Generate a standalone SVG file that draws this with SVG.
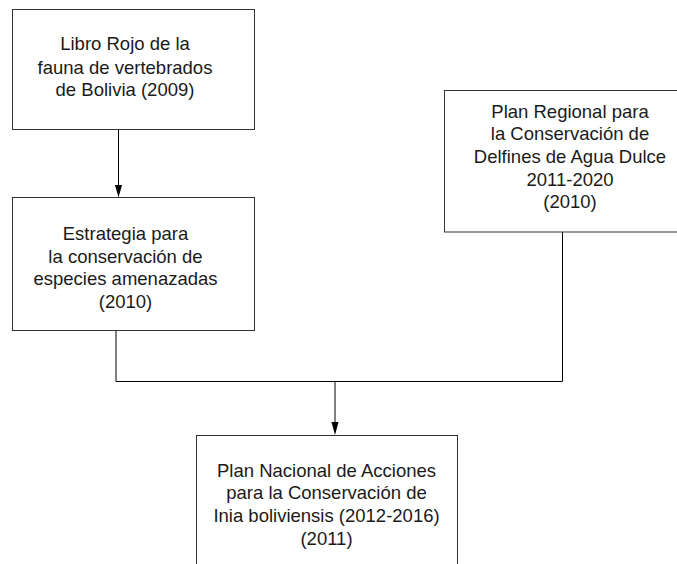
<svg xmlns="http://www.w3.org/2000/svg" width="677" height="564" viewBox="0 0 677 564">
<style>
.box{fill:#fff;stroke:#333;stroke-width:1}
.t{font-family:"Liberation Sans",Arial,sans-serif;font-size:18.5px;fill:#1a1a1a;text-anchor:middle}
.c{fill:none;stroke:#000;stroke-width:1}
</style>
<defs>
<marker id="ah" markerWidth="7" markerHeight="12" refX="3.5" refY="12" orient="auto-start-reverse" markerUnits="userSpaceOnUse" viewBox="0 0 7 12">
<path d="M0,0 L7,0 L3.5,12 Z" fill="#000"/>
</marker>
</defs>
<rect width="677" height="564" fill="#fff"/>
<g id="connectors">
<path class="c" d="M118.5,129.5 V185"/>
<path d="M115,185 L122,185 L118.5,197.5 Z" fill="#000"/>
<path class="c" d="M116,330.5 V381.5 H562.5 V232"/>
<path class="c" d="M335,381.5 V423"/>
<path d="M331.5,422 L338.5,422 L335,435 Z" fill="#000"/>
</g>
<g id="n1">
<rect class="box" x="12.5" y="9.5" width="242" height="120"/>
<text class="t" x="125" y="50">Libro Rojo de la</text>
<text class="t" x="125" y="73.5">fauna de vertebrados</text>
<text class="t" x="125" y="96">de Bolivia (2009)</text>
</g>
<g id="n2">
<rect class="box" x="12.5" y="197.5" width="242" height="133"/>
<text class="t" x="125.5" y="240">Estrategia para</text>
<text class="t" x="125.5" y="262.7">la conservación de</text>
<text class="t" x="125.5" y="285.4">especies amenazadas</text>
<text class="t" x="125.5" y="308">(2010)</text>
</g>
<g id="n3">
<rect class="box" x="444.5" y="90.5" width="260" height="141.5"/>
<text class="t" x="570" y="117.7">Plan Regional para</text>
<text class="t" x="570" y="140.3">la Conservación de</text>
<text class="t" x="570" y="163">Delfines de Agua Dulce</text>
<text class="t" x="570" y="185.6">2011-2020</text>
<text class="t" x="570" y="208.2">(2010)</text>
</g>
<g id="n4">
<rect class="box" x="196.5" y="435.5" width="261" height="140"/>
<text class="t" x="326.5" y="476.7">Plan Nacional de Acciones</text>
<text class="t" x="326.5" y="499.4">para la Conservación de</text>
<text class="t" x="326.5" y="522.1">Inia boliviensis (2012-2016)</text>
<text class="t" x="326.5" y="544.8">(2011)</text>
</g>
</svg>
